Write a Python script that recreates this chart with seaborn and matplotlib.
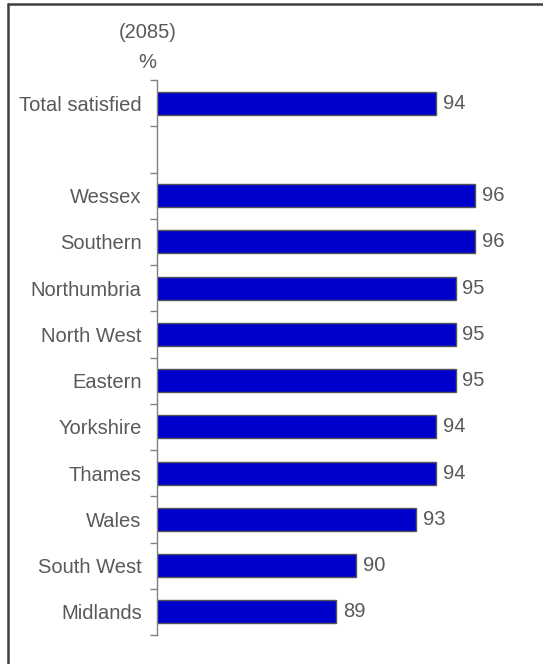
import matplotlib
matplotlib.use("Agg")
import matplotlib.pyplot as plt
from matplotlib.lines import Line2D
from matplotlib.ticker import FixedLocator
import numpy as np
import pandas as pd
import seaborn as sns

# Satisfaction by region, %
regions = ["Total satisfied", "Wessex", "Southern", "Northumbria", "North West",
           "Eastern", "Yorkshire", "Thames", "Wales", "South West", "Midlands"]
satisfied = [94, 96, 96, 95, 95, 95, 94, 94, 93, 90, 89]
base_label = "(2085)"
unit_label = "%"

# blank slot separates the total from the regional rows
order = [regions[0], " "] + regions[1:]

df = pd.DataFrame({"region": regions, "pct": satisfied})

sns.set_theme(style="white")
plt.rcParams["font.family"] = ["Liberation Sans", "DejaVu Sans"]

W, H, DPI = 543, 664, 100
fig = plt.figure(figsize=(W / DPI, H / DPI), dpi=DPI)

FS = 14.5
TXT = "#595959"

left_px, right_px, top_px, bot_px = 157, 535, 80, 635
ax = fig.add_axes([left_px / W, 1 - bot_px / H,
                   (right_px - left_px) / W, (bot_px - top_px) / H])

sns.barplot(data=df, y="region", x="pct", order=order, orient="h",
            color="#0000CC", saturation=1, width=0.5,
            edgecolor="#555555", linewidth=1, ax=ax)

px_per_unit = 19.9
ax.set_xlim(80, 80 + (right_px - left_px) / px_per_unit)
ax.set_ylim(len(order) - 0.5, -0.5)

for cont in ax.containers:
    ax.bar_label(cont, fmt="%d", padding=5, fontsize=FS, color=TXT)

ax.set_xlabel("")
ax.set_ylabel("")
ax.set_xticks([])
for s in ["top", "right", "bottom"]:
    ax.spines[s].set_visible(False)
ax.spines["left"].set_color("#808080")
ax.spines["left"].set_linewidth(1)

ax.yaxis.set_minor_locator(FixedLocator(np.arange(-0.5, len(order), 1.0)))
ax.tick_params(axis="y", which="major", length=0, pad=11, labelsize=FS,
               labelcolor=TXT)
ax.tick_params(axis="y", which="minor", length=5, width=1, color="#808080",
               left=True, direction="out")

fig.text(148 / W, 1 - 33 / H, base_label, ha="center", va="center",
         fontsize=FS, color=TXT)
fig.text(147 / W, 1 - 62 / H, unit_label, ha="center", va="center",
         fontsize=FS, color=TXT)

# outer frame (top and left edges)
fig.add_artist(Line2D([8 / W, 1], [1 - 4 / H, 1 - 4 / H], transform=fig.transFigure,
                      color="#404040", linewidth=1.8))
fig.add_artist(Line2D([8 / W, 8 / W], [0, 1 - 4 / H], transform=fig.transFigure,
                      color="#404040", linewidth=1.8))

fig.savefig("out.png", dpi=DPI, facecolor="white")
